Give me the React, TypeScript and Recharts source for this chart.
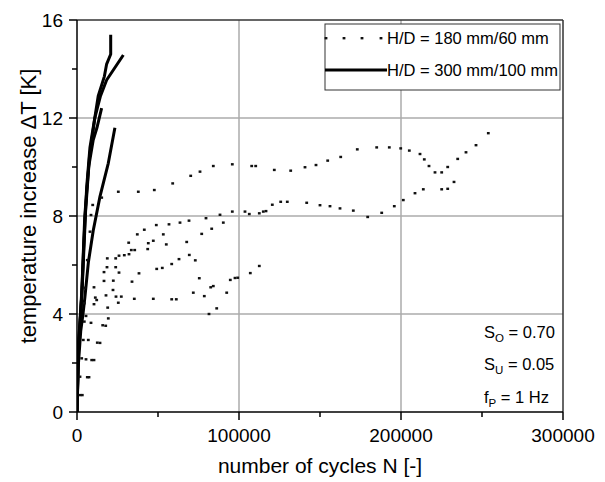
import React from "react";
import { ComposedChart, Line, Scatter, XAxis, YAxis, ReferenceLine } from "recharts";

// ---- axis ticks ----
const xTicks = [0, 50000, 100000, 150000, 200000, 250000, 300000];
const xMajor = [0, 100000, 200000, 300000];
const yTicks = [0, 2, 4, 6, 8, 10, 12, 14, 16];
const yMajor = [0, 4, 8, 12, 16];
const xGrid = [100000, 200000];
const yGrid = [4, 8, 12];

// ---- H/D = 300 mm/100 mm (solid lines) : [N, dT] ----
const lineA: number[][] = [[0, 0], [800, 2.7], [2900, 4.7], [4300, 7.0], [6000, 9.2], [8000, 10.8], [11100, 12.05], [13100, 12.9], [16900, 13.7], [18300, 14.2], [20800, 14.6], [20800, 15.4]];
const lineB: number[][] = [[0, 0], [1000, 2.6], [3300, 5.2], [5300, 8.2], [7700, 10.4], [11000, 12.0], [14500, 12.9], [18300, 13.55], [28600, 14.57]];
const lineC: number[][] = [[0, 0], [900, 2.6], [3000, 5.0], [4800, 8.0], [7200, 10.0], [10000, 11.1], [12300, 11.6], [15200, 12.4]];
const lineD: number[][] = [[0, 0], [700, 1.8], [2300, 3.3], [3700, 4.0], [4900, 4.7], [7000, 6.1], [10000, 7.4], [14200, 8.8], [19300, 10.15], [23400, 11.6]];

// ---- H/D = 180 mm/60 mm (dotted) : [N, dT] ----
const dotsUpper: number[][] = [
  [8640, 8.04], [9690, 8.45], [15250, 8.75], [25500, 8.99], [37840, 8.99], [47720, 9.06], [59070, 9.33], [70190, 9.64], [75930, 9.81],
  [84140, 10.04], [95870, 10.11], [107840, 10.04], [110310, 10.04], [121790, 9.88], [131910, 9.85], [140740, 9.99], [147530, 10.08],
  [154750, 10.26], [162780, 10.41], [173020, 10.72], [185000, 10.8], [192780, 10.8], [199820, 10.76], [205130, 10.67], [211730, 10.53],
  [214380, 10.31], [217280, 10.04], [220990, 9.78], [225120, 9.78], [228830, 10.0], [235000, 10.33], [240120, 10.6], [246300, 10.89], [253890, 11.38],
];
const dotsMiddle: number[][] = [
  [8020, 7.36], [18520, 5.91], [25930, 6.38], [29200, 6.4], [32100, 6.44], [33520, 6.61], [35620, 6.61], [31910, 6.91], [37220, 7.25],
  [41540, 7.44], [48950, 7.63], [56790, 7.66], [63580, 7.73], [69140, 7.81], [79630, 7.91], [88270, 8.05], [95870, 8.18], [103700, 8.18],
  [106360, 8.08], [112530, 8.11], [115000, 8.18], [116670, 8.2], [120560, 8.46], [125740, 8.58], [129810, 8.58], [141790, 8.54],
  [150000, 8.44], [156170, 8.4], [162350, 8.31], [170560, 8.22], [179440, 7.96], [188090, 8.13], [195860, 8.4], [201420, 8.65],
  [208640, 8.93], [213770, 9.09], [225120, 9.09], [228830, 9.11], [232720, 9.39],
];
const dotsLower: number[][] = [
  [6360, 6.2], [16670, 5.71], [18700, 6.27], [23890, 6.27], [23890, 5.91], [25930, 5.69], [44010, 6.89], [47100, 6.99], [43640, 6.65],
  [53270, 7.25], [55120, 6.84], [67720, 6.94], [76980, 7.27], [83150, 7.48], [90310, 7.73], [69320, 6.41], [62960, 6.24], [58460, 6.04],
  [52650, 5.88], [49200, 5.84], [38270, 5.66], [33950, 5.32], [73020, 6.19], [75490, 5.46], [22410, 5.36],
  [16670, 5.35], [10490, 5.09], [22220, 4.98], [17900, 4.76], [24070, 4.71], [27350, 4.71], [35370, 4.62], [47100, 4.62], [58460, 4.6],
  [61300, 4.6], [71790, 4.87], [78580, 4.73], [82530, 5.09], [84140, 5.14], [92410, 4.87], [94630, 5.39], [97530, 5.47], [99200, 5.48],
  [106980, 5.67], [112530, 5.96], [81480, 4.0], [86240, 4.23],
];
const dotsStart: number[][] = [
  [4940, 5.07], [11300, 4.67], [12160, 4.57], [10490, 4.4], [4510, 4.44], [25490, 4.46], [18950, 4.26], [5560, 3.92], [19320, 3.82],
  [4510, 3.69], [8640, 3.64], [15860, 3.54], [17720, 3.52], [3890, 2.94], [6980, 2.94], [12530, 2.83], [14200, 2.82], [2900, 2.19],
  [5560, 2.15], [9070, 2.12], [10490, 2.12], [1850, 1.44], [6360, 1.42], [7410, 1.42], [1850, 0.69], [3270, 0.69],
];

const toRows = (a: number[][]) => a.map(([x, y]) => ({ x, y }));

const FONT = "'Liberation Sans', Arial, sans-serif";

const XTick = (props: any) => {
  const { x, y, payload } = props;
  const major = xMajor.includes(payload.value);
  return (
    <g>
      <line x1={x} x2={x} y1={y} y2={y + (major ? 8 : 5)} stroke="#000" strokeWidth={1.5} />
      {major && (
        <text x={x} y={y + 30} textAnchor="middle" fontSize={19} fontFamily={FONT} fill="#000">
          {payload.value}
        </text>
      )}
    </g>
  );
};

const YTick = (props: any) => {
  const { x, y, payload } = props;
  const major = yMajor.includes(payload.value);
  return (
    <g>
      <line x1={x} x2={x - (major ? 8 : 5)} y1={y} y2={y} stroke="#000" strokeWidth={1.5} />
      {major && (
        <text x={x - 14} y={y + 7} textAnchor="end" fontSize={19} fontFamily={FONT} fill="#000">
          {payload.value}
        </text>
      )}
    </g>
  );
};

const Dot = (props: any) => {
  const { cx, cy } = props;
  if (cx == null || cy == null) return null;
  return <rect x={cx - 1.4} y={cy - 1.2} width={2.8} height={2.4} fill="#111" />;
};

export default function App() {
  const lines = [lineA, lineB, lineC, lineD];
  const dots = [dotsUpper, dotsMiddle, dotsLower, dotsStart];
  return (
    <div style={{ position: "absolute", left: 0, top: 0, width: 605, height: 482, background: "#fff" }}>
      <ComposedChart width={605} height={482} margin={{ top: 20, right: 42, bottom: 30, left: 17 }}>
        <XAxis
          dataKey="x"
          type="number"
          domain={[0, 300000]}
          ticks={xTicks}
          interval={0}
          tickSize={0}
          tickMargin={0}
          height={40}
          axisLine={{ stroke: "#000", strokeWidth: 1.5 }}
          tickLine={false}
          tick={<XTick />}
          allowDataOverflow
        />
        <YAxis
          dataKey="y"
          type="number"
          domain={[0, 16]}
          ticks={yTicks}
          interval={0}
          tickSize={0}
          tickMargin={0}
          width={60}
          axisLine={{ stroke: "#000", strokeWidth: 1.5 }}
          tickLine={false}
          tick={<YTick />}
          allowDataOverflow
        />
        {xGrid.map((v) => (
          <ReferenceLine key={"gx" + v} x={v} stroke="#ababab" strokeWidth={1.5} />
        ))}
        {yGrid.map((v) => (
          <ReferenceLine key={"gy" + v} y={v} stroke="#ababab" strokeWidth={1.5} />
        ))}
        <ReferenceLine y={16} stroke="#333" strokeWidth={1.5} />
        <ReferenceLine x={300000} stroke="#333" strokeWidth={1.5} />
        {dots.map((d, i) => (
          <Scatter key={"s" + i} data={toRows(d)} dataKey="y" shape={<Dot />} isAnimationActive={false} />
        ))}
        {lines.map((l, i) => (
          <Line
            key={"l" + i}
            data={toRows(l)}
            dataKey="y"
            type="linear"
            stroke="#000"
            strokeWidth={3}
            dot={false}
            activeDot={false}
            isAnimationActive={false}
            strokeLinejoin="round"
          />
        ))}
      </ComposedChart>
      <svg width={605} height={482} style={{ position: "absolute", left: 0, top: 0, pointerEvents: "none" }}>
        <text
          transform="translate(36,206) rotate(-90)"
          textAnchor="middle"
          fontSize={22}
          fontFamily={FONT}
          fill="#000"
        >
          temperature increase ΔT [K]
        </text>
        <text x={320} y={473} textAnchor="middle" fontSize={21} fontFamily={FONT} fill="#000">
          number of cycles N [-]
        </text>
        {/* legend */}
        <rect x={325} y={24} width={235} height={66} fill="#fff" stroke="#333" strokeWidth={1} />
        {[326, 344, 362, 381].map((x) => (
          <rect key={x} x={x - 1.4} y={37} width={2.8} height={2.4} fill="#111" />
        ))}
        <text x={387} y={44} fontSize={16.5} fontFamily={FONT} fill="#000">H/D = 180 mm/60 mm</text>
        <line x1={325} x2={387} y1={70} y2={70} stroke="#000" strokeWidth={3} />
        <text x={387} y={76} fontSize={16.5} fontFamily={FONT} fill="#000">H/D = 300 mm/100 mm</text>
        {/* annotations */}
        <text x={484} y={338} fontSize={16.5} fontFamily={FONT} fill="#000">
          S<tspan fontSize={11.5} dy={4}>O</tspan><tspan dy={-4}> = 0.70</tspan>
        </text>
        <text x={484} y={370} fontSize={16.5} fontFamily={FONT} fill="#000">
          S<tspan fontSize={11.5} dy={4}>U</tspan><tspan dy={-4}> = 0.05</tspan>
        </text>
        <text x={484} y={403} fontSize={16.5} fontFamily={FONT} fill="#000">
          f<tspan fontSize={11.5} dy={4}>P</tspan><tspan dy={-4}> = 1 Hz</tspan>
        </text>
      </svg>
    </div>
  );
}
